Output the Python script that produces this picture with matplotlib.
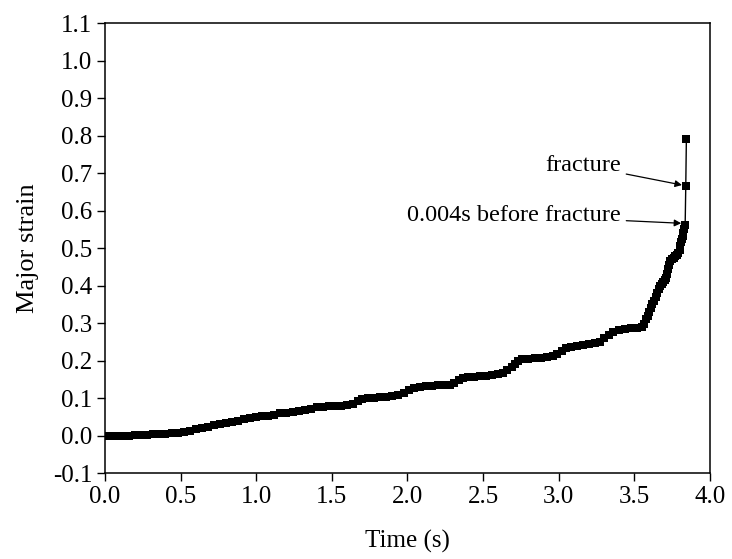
import numpy as np
import matplotlib.pyplot as plt

# strain history
time_s = [0.00, 0.04, 0.08, 0.12, 0.16, 0.20, 0.24, 0.28, 0.32, 0.36,
          0.40, 0.44, 0.48, 0.52, 0.56, 0.60, 0.64, 0.68, 0.72, 0.76,
          0.80, 0.84, 0.88, 0.92, 0.96, 1.00, 1.04, 1.08, 1.12, 1.16,
          1.20, 1.24, 1.28, 1.32, 1.36, 1.40, 1.44, 1.48, 1.52, 1.56,
          1.60, 1.64, 1.67, 1.70, 1.74, 1.78, 1.82, 1.86, 1.90, 1.94,
          1.98, 2.01, 2.04, 2.08, 2.12, 2.16, 2.20, 2.24, 2.28, 2.31,
          2.34, 2.37, 2.40, 2.44, 2.48, 2.52, 2.56, 2.60, 2.63, 2.66,
          2.69, 2.71, 2.73, 2.76, 2.80, 2.84, 2.88, 2.92, 2.96, 2.99,
          3.02, 3.05, 3.08, 3.12, 3.16, 3.20, 3.24, 3.27, 3.30, 3.33,
          3.36, 3.40, 3.44, 3.48, 3.52, 3.55, 3.565, 3.58, 3.59, 3.60,
          3.61, 3.62, 3.63, 3.64, 3.65, 3.66, 3.67, 3.68, 3.69, 3.70,
          3.71, 3.715, 3.72, 3.728, 3.735, 3.75, 3.76, 3.77, 3.78, 3.79,
          3.80, 3.805, 3.81, 3.815, 3.82, 3.825, 3.83, 3.836, 3.840, 3.844]
strain = [0.000, 0.000, 0.000, 0.000, 0.000, 0.001, 0.001, 0.002, 0.003, 0.004,
          0.005, 0.006, 0.008, 0.010, 0.013, 0.017, 0.020, 0.024, 0.027, 0.031,
          0.034, 0.037, 0.040, 0.043, 0.046, 0.049, 0.051, 0.053, 0.056, 0.059,
          0.061, 0.063, 0.066, 0.069, 0.072, 0.075, 0.077, 0.079, 0.080, 0.080,
          0.081, 0.085, 0.093, 0.098, 0.100, 0.101, 0.102, 0.103, 0.105, 0.108,
          0.114, 0.121, 0.127, 0.130, 0.132, 0.133, 0.134, 0.135, 0.136, 0.140,
          0.148, 0.153, 0.156, 0.157, 0.158, 0.160, 0.162, 0.164, 0.168, 0.174,
          0.182, 0.192, 0.199, 0.203, 0.205, 0.207, 0.208, 0.210, 0.212, 0.217,
          0.226, 0.233, 0.237, 0.240, 0.242, 0.244, 0.246, 0.250, 0.260, 0.269,
          0.276, 0.282, 0.285, 0.286, 0.287, 0.290, 0.298, 0.310, 0.320, 0.330,
          0.340, 0.350, 0.360, 0.370, 0.380, 0.390, 0.398, 0.404, 0.409, 0.414,
          0.420, 0.432, 0.444, 0.455, 0.465, 0.470, 0.474, 0.478, 0.482, 0.487,
          0.495, 0.505, 0.515, 0.525, 0.532, 0.540, 0.550, 0.562, 0.665, 0.790]

x_ticks = [0.0, 0.5, 1.0, 1.5, 2.0, 2.5, 3.0, 3.5, 4.0]
y_ticks = [-0.1, 0.0, 0.1, 0.2, 0.3, 0.4, 0.5, 0.6, 0.7, 0.8, 0.9, 1.0, 1.1]

plt.rcParams['font.family'] = ['Liberation Serif', 'DejaVu Serif']

fig = plt.figure(figsize=(7.32, 5.59), dpi=100)
ax = fig.add_axes([0.1434, 0.1538, 0.8265, 0.805])

ax.plot(time_s, strain, color='black', lw=1.0, marker='s', ms=6,
        markeredgewidth=0)

ax.set_xlim(0, 4.0)
ax.set_ylim(-0.1, 1.1)
ax.set_xticks(x_ticks)
ax.set_yticks(y_ticks)
ax.set_xticklabels(['%.1f' % v for v in x_ticks])
ax.set_yticklabels(['%.1f' % v for v in y_ticks])
ax.tick_params(direction='out', length=6, width=1.0, labelsize=18,
               top=False, right=False, pad=3)
for s in ax.spines.values():
    s.set_linewidth(1.1)

ax.set_xlabel('Time (s)', fontsize=18, labelpad=16)
ax.set_ylabel('Major strain', fontsize=19, labelpad=10)

arrow = dict(arrowstyle='-|>', color='black', lw=0.9,
             mutation_scale=10, shrinkA=2, shrinkB=0)
ax.annotate('fracture', xy=(3.815, 0.668), xytext=(3.41, 0.72),
            ha='right', va='center', fontsize=17.5, arrowprops=arrow)
ax.annotate('0.004s before fracture', xy=(3.81, 0.566), xytext=(3.41, 0.587),
            ha='right', va='center', fontsize=17.5, arrowprops=arrow)

fig.savefig('out.png', dpi=100)
